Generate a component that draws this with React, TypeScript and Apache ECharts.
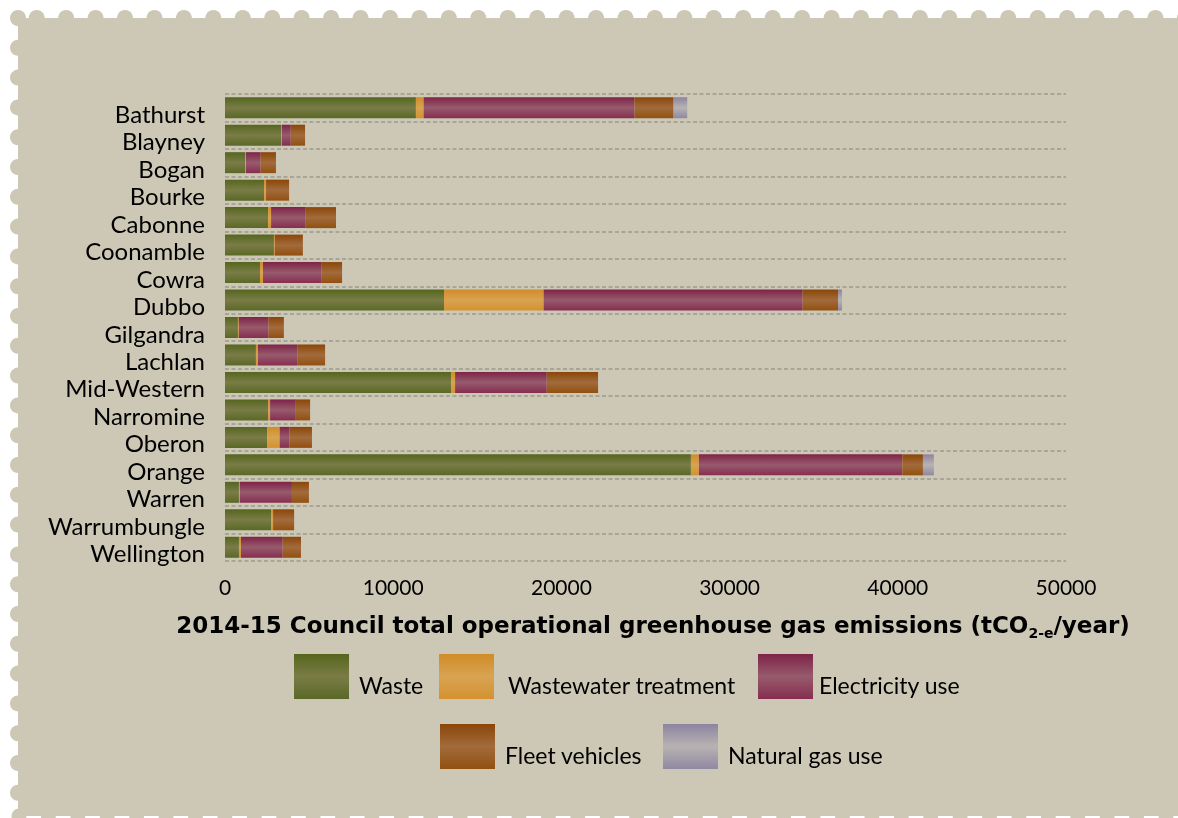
import React, { useEffect, useRef } from "react";
import * as echarts from "echarts";

const categories = [
  "Bathurst", "Blayney", "Bogan", "Bourke", "Cabonne", "Coonamble", "Cowra", "Dubbo",
  "Gilgandra", "Lachlan", "Mid-Western", "Narromine", "Oberon", "Orange", "Warren",
  "Warrumbungle", "Wellington",
];
const waste = [11350, 3330, 1190, 2320, 2560, 2910, 2080, 13020, 770, 1840, 13440, 2560, 2500, 27700, 830, 2740, 830];
const wastewater = [460, 50, 60, 120, 180, 50, 180, 5925, 50, 120, 240, 120, 750, 475, 60, 120, 120];
const electricity = [12540, 530, 870, 0, 2060, 0, 3490, 15400, 1770, 2360, 5450, 1530, 590, 12090, 3090, 0, 2480];
const fleet = [2320, 850, 910, 1370, 1800, 1670, 1210, 2100, 910, 1630, 3050, 850, 1330, 1230, 1010, 1250, 1090];
const naturalGas = [810, 0, 0, 0, 0, 0, 0, 240, 0, 0, 0, 0, 0, 650, 0, 0, 0];

const seriesNames = ["Waste", "Wastewater treatment", "Electricity use", "Fleet vehicles", "Natural gas use"];
const seriesData = [waste, wastewater, electricity, fleet, naturalGas];
const seriesColors = [
  ["#55661f", "#7a7c46", "#5a6826"],
  ["#d18c26", "#d8a352", "#d4922f"],
  ["#7e2347", "#975b6d", "#862d4f"],
  ["#8a4608", "#a26b3c", "#92500f"],
  ["#8c84a0", "#b8b3b2", "#8f88a2"],
];

const FONT = "Lato, 'Open Sans', sans-serif";
const TITLE_FONT = "'DejaVu Sans', 'Open Sans', sans-serif";
const STAMP = "#cdc8b6";

export default function App() {
  const ref = useRef<HTMLDivElement>(null);
  useEffect(() => {
    if (!ref.current) return;
    const chart = echarts.init(ref.current, null, { renderer: "svg" });

    const grad = (c: string[]) =>
      new echarts.graphic.LinearGradient(0, 0, 0, 1, [
        { offset: 0, color: c[0] },
        { offset: 0.5, color: c[1] },
        { offset: 1, color: c[2] },
      ]);

    // stamp background
    const stamp: any[] = [
      { type: "rect", z: -10, shape: { x: 18, y: 18, width: 1160, height: 798 }, style: { fill: STAMP } },
      { type: "circle", z: -10, shape: { cx: 18, cy: 18, r: 8 }, style: { fill: STAMP } },
    ];
    for (let k = 0; k < 40; k++) {
      const cx = 36.7 + 29.44 * k;
      if (cx - 8 < 1178) stamp.push({ type: "circle", z: -10, shape: { cx, cy: 18, r: 8 }, style: { fill: STAMP } });
    }
    for (let k = 1; k < 28; k++) {
      stamp.push({ type: "circle", z: -10, shape: { cx: 18, cy: 18 + 29.8 * k, r: 8 }, style: { fill: STAMP } });
    }
    for (let k = 0; k < 41; k++) {
      stamp.push({ type: "circle", z: -10, shape: { cx: 19 + 29.41 * k, cy: 816, r: 7.5 }, style: { fill: STAMP } });
    }

    const legendPos = [
      { left: 294, top: 654, pad: 5 },
      { left: 439, top: 654, pad: 9 },
      { left: 758, top: 654, pad: 1 },
      { left: 440, top: 724, pad: 5 },
      { left: 663, top: 724, pad: 5 },
    ];

    const option: any = {
      animation: false,
      backgroundColor: "transparent",
      grid: { left: 225, top: 94, width: 841, height: 467, outerBoundsMode: "none", containLabel: false },
      xAxis: {
        type: "value",
        min: 0,
        max: 50000,
        interval: 10000,
        axisLine: { show: false },
        axisTick: { show: false },
        splitLine: { show: false },
        axisLabel: {
          fontFamily: FONT,
          fontSize: 21,
          color: "#000",
          margin: 15,
          formatter: (v: number) => String(v),
        },
      },
      yAxis: {
        type: "category",
        inverse: true,
        data: categories,
        axisLine: { show: false },
        axisTick: { show: false },
        splitLine: { show: true, lineStyle: { type: [4, 2.5], color: "#9b988e", width: 1.5 } },
        axisLabel: {
          interval: 0,
          margin: 20,
          formatter: (v: string) => "{a|" + v + "}",
          rich: {
            a: { fontFamily: FONT, fontSize: 24, color: "#000", padding: [11, 0, 0, 0] },
          },
        },
      },
      legend: legendPos.map((p, i) => ({
        data: [seriesNames[i]],
        left: p.left,
        top: p.top,
        padding: 0,
        itemWidth: 55,
        itemHeight: 45,
        icon: "rect",
        formatter: (n: string) => "{a|" + n + "}",
        textStyle: {
          fontFamily: FONT,
          fontSize: 23,
          color: "#000",
          rich: { a: { fontFamily: FONT, fontSize: 23, color: "#000", padding: [16, 0, 0, p.pad] } },
        },
      })),
      graphic: [
        ...stamp,
        {
          type: "text",
          z: 10,
          x: 653,
          y: 610,
          style: {
            text: "{b|2014-15 Council total operational greenhouse gas emissions (tCO}{s|2-e}{b|/year)}",
            align: "center",
            verticalAlign: "top",
            rich: {
              b: { fontFamily: TITLE_FONT, fontSize: 23, fontWeight: "bold", fill: "#000", lineHeight: 30 },
              s: { fontFamily: TITLE_FONT, fontSize: 14, fontWeight: "bold", fill: "#000", verticalAlign: "bottom" },
            },
          },
        },
      ],
      series: seriesNames.map((name, i) => ({
        name,
        type: "bar",
        stack: "total",
        barWidth: 21,
        data: seriesData[i],
        itemStyle: { color: grad(seriesColors[i]) },
        emphasis: { disabled: true },
      })),
    };
    chart.setOption(option);
    return () => chart.dispose();
  }, []);
  return <div ref={ref} style={{ position: "fixed", left: 0, top: 0, width: 1178, height: 818 }} />;
}
